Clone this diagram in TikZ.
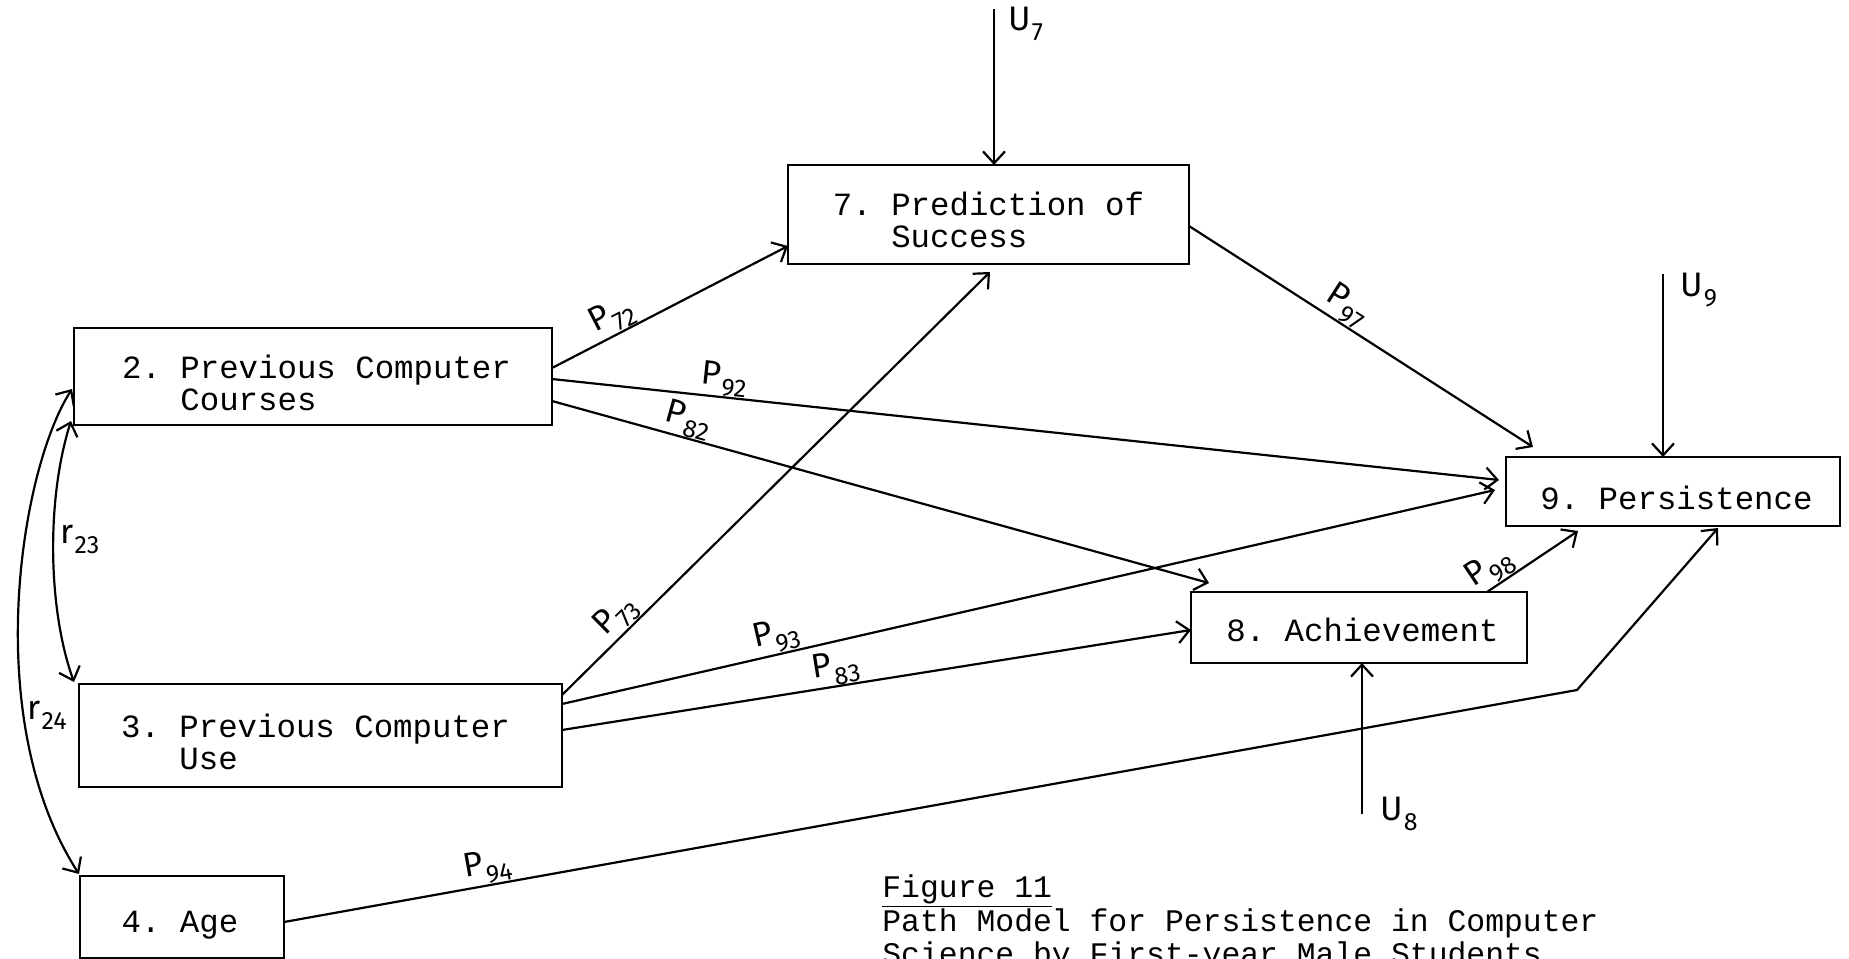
\documentclass[tikz,border=0pt]{standalone}
\usepackage{fontspec}
\newfontfamily\tw{Liberation Mono}
\newfontfamily\hand{Fira Sans}
\usetikzlibrary{arrows.meta,calc}
\frenchspacing
\newcommand\hlab[2]{{\hand\fontsize{17}{17}\selectfont #1\kern0.5pt\raisebox{-5pt}{\fontsize{12.5}{12.5}\selectfont #2}}}
\begin{document}
\begin{tikzpicture}[x=0.5pt,y=-0.5pt,
  box/.style={draw,line width=1.3pt,rectangle,inner sep=0pt,outer sep=0pt},
  boxtext/.style={inner sep=0pt,align=left,font=\tw\fontsize{16.2}{16}\selectfont},
  conn/.style={line width=1.1pt,-{Straight Barb[length=6pt,width=11pt]}},
  dconn/.style={line width=1.1pt,{Straight Barb[length=6pt,width=11pt]}-{Straight Barb[length=6pt,width=11pt]}},
  lab/.style={sloped,above,inner sep=0pt},
  free/.style={inner sep=0pt},
  captext/.style={anchor=base west,inner sep=0pt,font=\tw\fontsize{15.7}{16}\selectfont}]
\fill[white] (0,0) rectangle (1849,959);
\useasboundingbox (0,0) rectangle (1849,959);

% boxes
\node[box,minimum width=239pt,minimum height=48.5pt] (b2) at (313,376.5) {};
\node[box,minimum width=241.5pt,minimum height=51.5pt] (b3) at (320.5,735.5) {};
\node[box,minimum width=102pt,minimum height=41pt] (b4) at (182,917) {};
\node[box,minimum width=200.5pt,minimum height=49.5pt] (b7) at (988.5,214.5) {};
\node[box,minimum width=168pt,minimum height=35.5pt] (b8) at (1359,627.5) {};
\node[box,minimum width=167pt,minimum height=34.5pt] (b9) at (1673,491.5) {};

% box texts
\node[boxtext] (t2) at ($(b2.center)+(3.5,6)$) {2. Previous Computer\\\phantom{2. }Courses};
\node[boxtext] (t3) at ($(b3.center)+(-5,6)$) {3. Previous Computer\\\phantom{3. }Use};
\node[boxtext] (t4) at ($(b4.center)+(-2,8)$) {4. Age};
\node[boxtext] (t7) at ($(b7.center)+(0,5)$) {7. Prediction of\\\phantom{7. }Success};
\node[boxtext] (t8) at ($(b8.center)+(3.5,2)$) {8. Achievement};
\node[boxtext] (t9) at ($(b9.center)+(3.5,6)$) {9. Persistence};

% free ends
\coordinate (u7) at (994,9);
\coordinate (u9) at (1663,274);
\coordinate (u8) at (1362,814);
\coordinate (bend) at (1577,690);

% residual arrows
\draw[conn] (u7) -- ($(b7.north)+(5.5,0)$);
\node[free,anchor=west] (lu7) at (1008,24) {\hlab{U}{7}};
\draw[conn] (u9) -- ($(b9.north)+(-10,0)$);
\node[free,anchor=west] (lu9) at (1680,290) {\hlab{U}{9}};
\draw[conn] (u8) -- ($(b8.south)+(3,0)$);
\node[free,anchor=west] (lu8) at (1380,814) {\hlab{U}{8}};

% paths
\draw[conn] ($(b2.east)+(0,-8.5)$) -- node[lab,pos=0.29]{\hlab{P}{72}} ($(b7.west)+(0,31.5)$);
\draw[conn] ($(b2.east)+(0,2.5)$) -- node[lab,pos=0.18]{\hlab{P}{92}} ($(b9.west)+(-7,-11.5)$);
\draw[conn] ($(b2.east)+(0,24.5)$) -- node[lab,pos=0.2]{\hlab{P}{82}} ($(b8.north)+(-150,-9)$);
\draw[conn] ($(b7.east)+(0,11.5)$) -- node[lab,pos=0.43]{\hlab{P}{97}} ($(b9.north)+(-140,-10)$);
\draw[conn] ($(b3.north east)+(0,11)$) -- node[lab,pos=0.156]{\hlab{P}{73}} ($(b7.south)+(1.5,8)$);
\draw[conn] ($(b3.north east)+(0,20)$) -- node[lab,pos=0.234]{\hlab{P}{93}} ($(b9.west)+(-11,-1.5)$);
\draw[conn] ($(b3.north east)+(0,46)$) -- node[lab,pos=0.44]{\hlab{P}{83}} ($(b8.west)+(0,2.5)$);
\draw[conn] ($(b8.north)+(128,0)$) -- node[lab,pos=0.14]{\hlab{P}{98}} ($(b9.south)+(-95,5)$);
\draw[conn] ($(b4.east)+(0,5)$) -- node[lab,pos=0.16]{\hlab{P}{94}} (bend) -- ($(b9.south)+(45,2)$);

% correlations
\draw[dconn] ($(b2.south west)+(-3,-4)$) .. controls (46,500) and (48,610) .. ($(b3.north west)+(-5,-2)$);
\node[free] (lr23) at (80,539) {\hlab{r}{23}};
\draw[dconn] ($(b2.west)+(-2,12.5)$) .. controls (20,470) and (-20,720) .. ($(b4.north west)+(-1,-2)$);
\node[free] (lr24) at (47,715) {\hlab{r}{24}};

% caption
\node[captext] (fig) at (882,897) {\underline{Figure 11}};
\node[captext] (cap1) at (882,931) {Path Model for Persistence in Computer};
\node[captext] (cap2) at (882,964) {Science by First-year Male Students};
\end{tikzpicture}
\end{document}
